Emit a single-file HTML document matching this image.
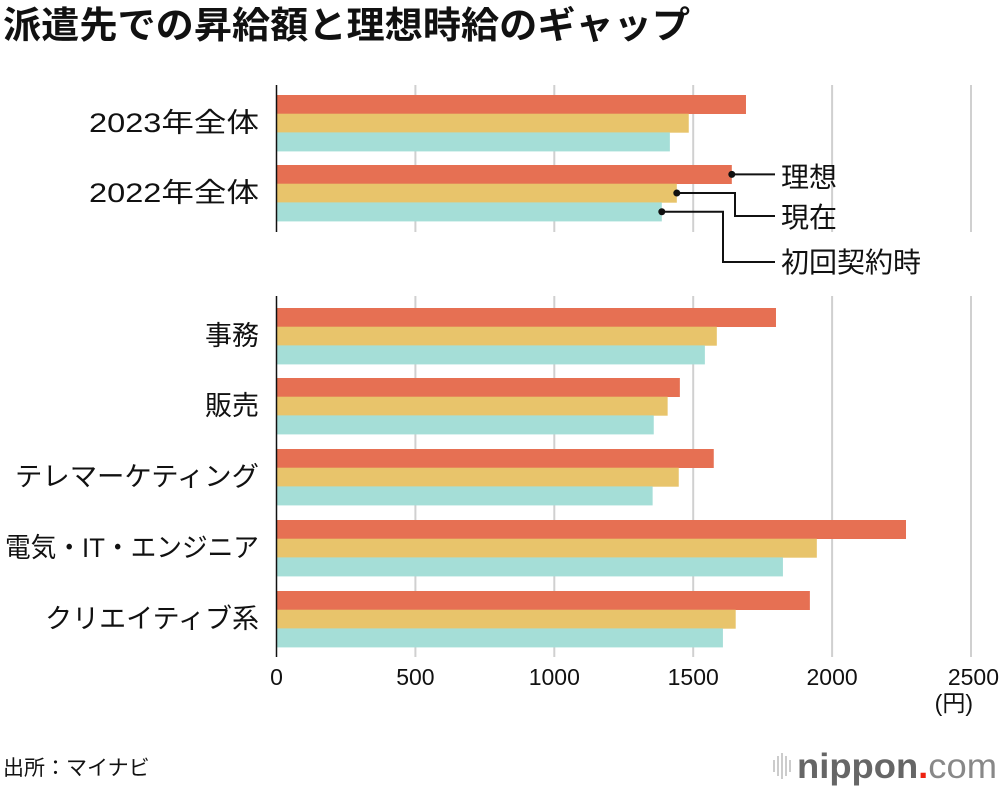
<!DOCTYPE html>
<html><head><meta charset="utf-8"><style>
body{margin:0;background:#fff;}
svg text{font-family:"Liberation Sans","Noto Sans CJK JP",sans-serif;fill:#111;}
</style></head><body>
<svg width="1000" height="790" viewBox="0 0 1000 790" xmlns="http://www.w3.org/2000/svg">
<text x="3" y="38" font-size="37" font-weight="bold" textLength="687" lengthAdjust="spacingAndGlyphs">派遣先での昇給額と理想時給のギャップ</text>
<g id="grid"></g>
<g id="bars"></g>
<g id="labels"></g>
<line x1="276.5" y1="85" x2="276.5" y2="232" stroke="#111" stroke-width="1.5"/>
<line x1="276.5" y1="296" x2="276.5" y2="657" stroke="#111" stroke-width="1.5"/>
<g id="ticks"></g>
<text x="973" y="711" font-size="23" text-anchor="end">(円)</text>
<g stroke="#111" stroke-width="2" fill="none">
<polyline id="ann0" points=""/><polyline id="ann1" points=""/><polyline id="ann2" points=""/>
</g>
<g id="anndots"></g>
<text x="781" y="187" font-size="28">理想</text>
<text x="781" y="227" font-size="28">現在</text>
<text x="781" y="272" font-size="28">初回契約時</text>
<text x="3" y="775" font-size="21">出所：マイナビ</text>
<g>
<g stroke="#bbb" stroke-width="1.5"><line x1="774" y1="760" x2="774" y2="772"/><line x1="778" y1="756" x2="778" y2="776"/><line x1="782" y1="753" x2="782" y2="779"/><line x1="786" y1="756" x2="786" y2="776"/><line x1="790" y1="760" x2="790" y2="772"/></g>
<text x="797" y="778" font-size="35" style="fill:#666" font-weight="bold" textLength="200" lengthAdjust="spacingAndGlyphs">nippon<tspan style="fill:#e21">.</tspan><tspan font-weight="normal" style="fill:#888">com</tspan></text>
</g>
</svg>
<script>
const categories=["2023年全体","2022年全体","事務","販売","テレマーケティング","電気・IT・エンジニア","クリエイティブ系"];
const idealValues=[1690,1639,1798,1452,1574,2266,1920];
const currentValues=[1484,1441,1585,1408,1448,1945,1653];
const initialValues=[1416,1387,1542,1358,1354,1823,1607];
const tickValues=[0,500,1000,1500,2000,2500];
const groupTops=[95,165,308,378,449,520,591];
const labelWidths={"2023年全体":170,"2022年全体":170,"電気・IT・エンジニア":254,"テレマーケティング":244};
const NS="http://www.w3.org/2000/svg";
const x=v=>276.5+v*(694.5/2500);
const bh=18.7;
const grid=document.getElementById('grid'),bars=document.getElementById('bars'),labels=document.getElementById('labels'),ticks=document.getElementById('ticks');
function mk(tag,attrs,parent){const e=document.createElementNS(NS,tag);for(const k in attrs)e.setAttribute(k,attrs[k]);parent.appendChild(e);return e;}
tickValues.forEach(t=>{
  if(t>0){[[85,232],[296,657]].forEach(r=>{const l=mk('line',{x1:x(t),x2:x(t),y1:r[0],y2:r[1],stroke:'#d0d0d0','stroke-width':2},grid);
  
  });}
  const tx=mk('text',{x:x(t),y:685,'font-size':23,'text-anchor':t===2500?'end':'middle'},ticks);
  if(t===2500)tx.setAttribute('x',x(t)+28);
  tx.textContent=t;
  
  
});
const series=[[idealValues,'#e67053','ideal'],[currentValues,'#e8c46b','current'],[initialValues,'#a5ded7','initial']];
categories.forEach((c,i)=>{
  series.forEach((s,j)=>{
    const r=mk('rect',{x:x(0),y:groupTops[i]+j*bh,width:x(s[0][i])-x(0),height:bh+0.3,fill:s[1]},bars);
    
    
  });
  const t=mk('text',{x:259,y:groupTops[i]+bh*1.5+9,'font-size':27,'text-anchor':'end'},labels);
  if(labelWidths[c]){t.setAttribute('textLength',labelWidths[c]);t.setAttribute('lengthAdjust','spacingAndGlyphs');}
  t.textContent=c;
  
  
});
const gi=1,y0=groupTops[gi];
const px=[x(idealValues[gi]),x(currentValues[gi]),x(initialValues[gi])];
const py=[y0+bh/2,y0+bh*1.5,y0+bh*2.5];
document.getElementById('ann0').setAttribute('points',`${px[0]},${py[0]} 775,${py[0]}`);
document.getElementById('ann1').setAttribute('points',`${px[1]},${py[1]} 735,${py[1]} 735,216 775,216`);
document.getElementById('ann2').setAttribute('points',`${px[2]},${py[2]} 723,${py[2]} 723,262 775,262`);
const dots=document.getElementById('anndots');
px.forEach((p,k)=>{const d=mk('circle',{cx:p,cy:py[k],r:3.5,fill:'#111'},dots);

});
</script>
</body></html>
